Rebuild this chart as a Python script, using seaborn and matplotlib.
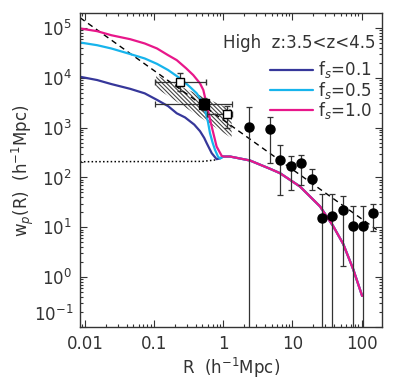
import numpy as np
import pandas as pd
import seaborn as sns
import matplotlib as mpl
from matplotlib import pyplot as plt

sns.set_style('ticks')
mpl.rcParams['font.family'] = ['DejaVu Sans']
mpl.rcParams['font.size'] = 12
mpl.rcParams['hatch.linewidth'] = 0.8
mpl.rcParams['mathtext.fontset'] = 'dejavusans'

# model curves (small scales, one per f_s)
fs_labels = ['f$_s$=0.1', 'f$_s$=0.5', 'f$_s$=1.0']
fs_colors = ['#36379a', '#17b4ec', '#e8178a']

r_01 = [0.0085, 0.015, 0.024, 0.045, 0.073, 0.11, 0.159, 0.212, 0.28, 0.38,
        0.46, 0.53, 0.575, 0.68, 0.80, 0.88]
w_01 = [10470, 9000, 7480, 6000, 4870, 3600, 2700, 1940, 1600, 1150,
        850, 620, 488, 307, 233, 240]

r_05 = [0.0085, 0.015, 0.024, 0.042, 0.073, 0.11, 0.159, 0.237, 0.32, 0.413,
        0.48, 0.544, 0.60, 0.642, 0.70, 0.759, 0.84, 0.90]
w_05 = [51000, 45000, 38700, 30800, 24400, 19000, 14300, 9720, 6800, 4870,
        3500, 2260, 1300, 773, 500, 358, 260, 240]

r_10 = [0.0085, 0.015, 0.024, 0.045, 0.073, 0.11, 0.159, 0.212, 0.29, 0.368,
        0.46, 0.514, 0.56, 0.61, 0.68, 0.80, 0.947]
w_10 = [97500, 86000, 71400, 59400, 48800, 38700, 28400, 22600, 15500, 11300,
        7730, 5680, 3400, 2000, 1047, 417, 272]

# shared large-scale tail
r_tail = [1.0, 1.25, 2.43, 4.7, 6.6, 12.8, 25.0, 38.9, 54.3, 75.7, 101.7]
w_tail = [263, 263, 219, 150, 122, 66, 26.3, 10.5, 4.6, 1.43, 0.42]

# power-law fit (dashed) and 2-halo term (dotted)
dash_r = [0.0085, 165]
dash_w = [1.6e5, 9.0]
dot_r = [0.0085, 0.5, 0.8]
dot_w = [207, 210, 226]

# hatched band
band_r = [0.107, 1.32]
band_lo = [6220, 614]
band_hi = [11300, 2260]

# filled circles
pt_r = [2.38, 4.73, 6.6, 9.4, 13.3, 18.9, 26.4, 37.6, 53.1, 74.1, 104.5, 147]
pt_w = [1047, 931, 226, 171, 194, 94, 15.4, 16.6, 22.6, 10.8, 10.8, 19.4]
pt_hi = [2560, 1660, 451, 275, 284, 150, 46.6, 46.6, 43, 27, 27, 29.8]
pt_lo = [1e-3, 193, 45, 57, 71, 57, 1e-3, 1e-3, 1.7, 1e-3, 1e-3, 8.6]

# open squares
sq_r = [0.237, 1.14]
sq_w = [8090, 1853]
sq_rlo = [0.104, 0.575]
sq_rhi = [0.562, 1.35]
sq_wlo = [5500, 973]
sq_whi = [12240, 2717]

# filled square
fsq_r = [0.526]
fsq_w = [2979]
fsq_rlo = [0.104]
fsq_rhi = [1.32]
fsq_wlo = [2260]
fsq_whi = [3981]

fig = plt.figure(figsize=(3.99, 3.87), dpi=100)
ax = fig.add_axes([0.2005, 0.155, 0.7565, 0.8105])

ink = '#333333'

ax.fill_between(band_r, band_lo, band_hi, facecolor='none', edgecolor='#444444',
                hatch='\\\\\\\\\\\\\\\\', linewidth=0)

ax.plot(dash_r, dash_w, ls=(0, (4, 3)), color='black', lw=1.0)
ax.plot(dot_r, dot_w, ls=(0, (1, 1.5)), color='black', lw=1.1)

rows = []
for lab, rr, ww in zip(fs_labels, [r_01, r_05, r_10], [w_01, w_05, w_10]):
    for a, b in zip(list(rr) + r_tail, list(ww) + w_tail):
        rows.append({'R': a, 'wp': b, 'fs': lab})
df = pd.DataFrame(rows)
sns.lineplot(data=df, x='R', y='wp', hue='fs', palette=fs_colors, sort=False,
             estimator=None, lw=1.6, ax=ax)

pt_r = np.array(pt_r)
pt_w = np.array(pt_w)
ax.errorbar(pt_r, pt_w, yerr=[pt_w - np.array(pt_lo), np.array(pt_hi) - pt_w],
            fmt='o', ms=6.5, color='black', ecolor=ink, elinewidth=0.9,
            capsize=2.5, capthick=0.9)

sq_r = np.array(sq_r)
sq_w = np.array(sq_w)
ax.errorbar(sq_r, sq_w, xerr=[sq_r - np.array(sq_rlo), np.array(sq_rhi) - sq_r],
            yerr=[sq_w - np.array(sq_wlo), np.array(sq_whi) - sq_w],
            fmt='s', ms=6, mfc='white', mec='black', mew=1.0, color='black',
            ecolor=ink, elinewidth=0.9, capsize=2.5, capthick=0.9)

fsq_r = np.array(fsq_r)
fsq_w = np.array(fsq_w)
ax.errorbar(fsq_r, fsq_w, xerr=[fsq_r - np.array(fsq_rlo), np.array(fsq_rhi) - fsq_r],
            yerr=[fsq_w - np.array(fsq_wlo), np.array(fsq_whi) - fsq_w],
            fmt='s', ms=6.5, color='black', ecolor=ink, elinewidth=0.9,
            capsize=2.5, capthick=0.9)

ax.set_xscale('log')
ax.set_yscale('log')
ax.set_xlim(0.00847, 196)
ax.set_ylim(0.1, 1.96e5)

ax.set_xticks([0.01, 0.1, 1, 10, 100])
ax.set_xticklabels(['0.01', '0.1', '1', '10', '100'])
ax.set_yticks([1e-1, 1, 10, 1e2, 1e3, 1e4, 1e5])
ax.set_yticklabels(['', '10$^0$', '10$^1$', '10$^2$', '10$^3$', '10$^4$', '10$^5$'])
# bottom label sits a little above its tick, as in the original
ax.annotate('10$^{-1}$', xy=(0, 0.1), xycoords=('axes fraction', 'data'),
            xytext=(-4.5, 9), textcoords='offset points', ha='right',
            va='center', color=ink)

ax.tick_params(which='both', direction='in', top=True, right=True, colors=ink,
               labelcolor=ink, width=0.8)
ax.tick_params(which='major', length=5, pad=6)
ax.tick_params(which='minor', length=2.5)
for s in ax.spines.values():
    s.set_color(ink)
    s.set_linewidth(1.0)

ax.set_xlabel('R  (h$^{-1}$Mpc)', color=ink, labelpad=2)
ax.set_ylabel('w$_p$(R)  (h$^{-1}$Mpc)', color=ink, labelpad=4)

ax.text(0.98, 0.905, 'High  z:3.5<z<4.5', transform=ax.transAxes, ha='right',
        va='center', color=ink, fontsize=12)

leg = ax.legend(loc='upper right', bbox_to_anchor=(1.0, 0.885), frameon=False,
                handlelength=2.6, handletextpad=0.3, labelspacing=-0.05,
                borderaxespad=0.2, fontsize=12)
for t in leg.get_texts():
    t.set_color(ink)

fig.savefig('out.png', dpi=100)
